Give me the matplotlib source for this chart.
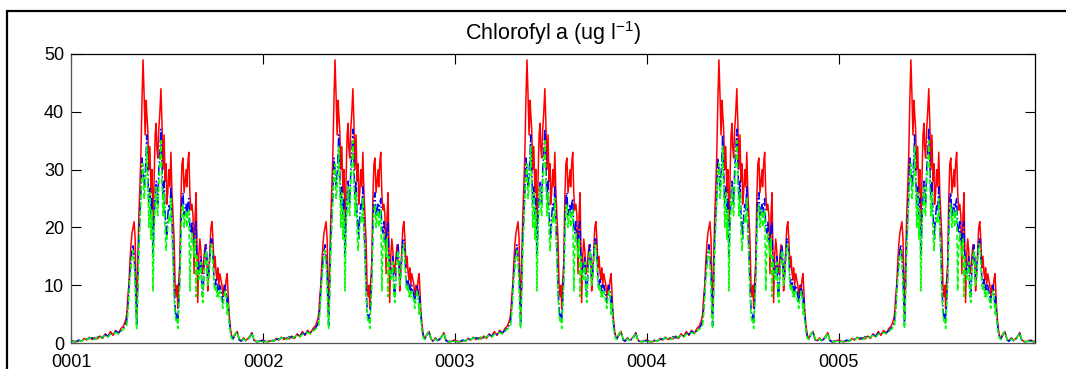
import matplotlib
matplotlib.use('Agg')
import matplotlib.pyplot as plt
import numpy as np
from matplotlib.lines import Line2D

plt.rcParams['font.family'] = ['Liberation Sans', 'DejaVu Sans']
plt.rcParams['mathtext.fontset'] = 'custom'
plt.rcParams['mathtext.rm'] = 'Liberation Sans'
plt.rcParams['mathtext.it'] = 'Liberation Sans'

# one model year (day of year), the same year repeats five times in the run
days = [0, 5, 10, 15, 20, 25, 30, 35, 40, 45, 50, 55, 60, 65, 70, 75, 80, 85, 90, 95, 100, 104,
        106, 108, 110, 112, 114, 116, 118, 120, 122, 124,
        125, 127, 129, 131, 133, 135, 137, 139, 141, 143,
        144, 146, 148, 150, 152, 154, 156, 158, 160, 162,
        163, 165, 167, 169, 171, 173, 175, 177, 179, 181,
        182, 184, 186, 188, 190, 192, 194, 196, 198, 200,
        202, 203, 205, 207, 209, 211, 213, 215, 217, 219,
        220, 222, 224, 226, 228, 230, 232, 234, 236, 238,
        239, 241, 243, 245, 247, 249, 251, 253, 255, 257,
        259, 260, 262, 264, 266, 268, 270, 272, 274, 276,
        278, 279, 281, 283, 285, 287, 289, 291, 293, 295,
        297, 298, 300, 302, 304, 306,
        308, 312, 316, 320, 324, 328, 332, 336, 340, 344, 348, 352, 356, 360, 364]

red = [0.5, 0.3, 0.2, 0.4, 0.3, 0.8, 0.5, 1.0, 0.6, 0.9, 0.7, 1.2, 0.8, 1.6, 1.1, 2.0, 1.3, 2.2, 1.6, 2.5, 3.0, 4.0,
       5, 8, 10, 14, 17, 19, 20, 21, 18, 8,
       5, 14, 22, 27, 33, 42, 49, 43, 36, 42,
       40, 37, 30, 34, 26, 30, 20, 28, 36, 38,
       34, 32, 37, 40, 44, 38, 30, 36, 28, 31,
       24, 26, 30, 27, 33, 26, 22, 18, 10, 8,
       10, 6, 11, 14, 25, 31, 32, 26, 28, 30,
       27, 31, 33, 26, 23, 24, 22, 12, 22, 26,
       20, 7, 15, 18, 16, 12, 13, 15, 17, 14,
       13, 9, 12, 16, 20, 21, 18, 13, 15, 12,
       11, 13, 10, 12, 11, 10, 8, 10, 9, 11,
       12, 10, 6, 3.5, 2, 1,
       0.8, 1.6, 2.0, 0.6, 0.4, 0.9, 0.5, 0.7, 1.2, 1.8, 0.5, 0.3, 0.2, 0.4, 0.5]

blue = [0.4, 0.2, 0.3, 0.5, 0.4, 0.6, 0.7, 0.8, 0.9, 0.7, 1.1, 0.9, 1.0, 1.4, 1.2, 1.7, 1.5, 2.0, 1.8, 2.1, 2.6, 3.2,
        4, 6, 9, 12, 14, 16, 17, 15, 12, 5,
        3, 10, 18, 22, 26, 32, 30, 27, 29, 33,
        36, 30, 24, 27, 22, 25, 15, 21, 25, 28,
        26, 24, 30, 33, 37, 31, 25, 28, 22, 20,
        18, 22, 24, 23, 27, 21, 16, 10, 6, 4,
        5, 3.5, 7, 12, 20, 25, 26, 22, 23, 24,
        22, 24, 25, 20, 19, 21, 18, 17, 20, 21,
        16, 14, 12, 13, 15, 9, 8, 13, 16, 17,
        14, 11, 12, 15, 18, 18, 15, 11, 10, 11,
        9, 10, 9, 10, 9, 8, 7, 9, 10, 9,
        6, 8, 5, 3, 1.5, 0.8,
        0.7, 1.4, 1.8, 0.5, 0.3, 0.8, 0.4, 0.6, 1.0, 1.6, 0.4, 0.2, 0.3, 0.3, 0.4]

green = [0.3, 0.2, 0.3, 0.4, 0.3, 0.7, 0.6, 0.9, 0.8, 0.6, 1.0, 0.8, 1.1, 1.3, 1.0, 1.5, 1.7, 1.8, 1.6, 2.0, 2.4, 2.8,
         3, 5, 8, 11, 13, 15, 16, 14, 10, 3,
         2.5, 8, 16, 20, 25, 29, 31, 25, 27, 30,
         34, 28, 20, 26, 18, 23, 9, 19, 24, 27,
         24, 22, 28, 31, 35, 28, 22, 26, 19, 16,
         18, 20, 22, 21, 25, 19, 14, 8, 5, 3.5,
         4, 2.5, 6, 10, 18, 23, 24, 20, 22, 23,
         20, 22, 23, 9, 17, 19, 17, 15, 18, 8,
         15, 13, 11, 12, 14, 8, 7, 12, 15, 16,
         13, 10, 11, 14, 17, 17, 14, 10, 9, 10,
         8, 9, 8, 9, 8, 7, 6, 8, 9, 8,
         5, 7, 4, 2.5, 1.2, 0.7,
         0.6, 1.5, 1.9, 0.6, 0.4, 0.7, 0.5, 0.5, 1.1, 1.7, 0.5, 0.3, 0.2, 0.3, 0.4]

year_labels = ['0001', '0002', '0003', '0004', '0005']
n_years = 6  # sixth repeat only fills the last few days to the right edge

t = np.concatenate([np.array(days) + 365 * k for k in range(n_years)])
r = np.tile(red, n_years)
b = np.tile(blue, n_years)
g = np.tile(green, n_years)

fig = plt.figure(figsize=(10.66, 3.69), dpi=100, facecolor='white')
# outer frame of the original figure, only its left and top edges are inside the crop
bx, by = 7 / 1066, 1 - 11 / 369
fig.add_artist(Line2D([bx, bx, 1.01], [-0.01, by, by], transform=fig.transFigure,
                      color='black', linewidth=1.6, solid_joinstyle='miter'))

ax = fig.add_axes([71 / 1066, 1 - 343 / 369, 964 / 1066, 289 / 369])

ax.plot(t, r, color='#ff0000', linestyle='-', linewidth=1.1)
ax.plot(t, b, color='#0000ff', linestyle='-.', linewidth=1.1)
ax.plot(t, g, color='#00ff00', linestyle='--', linewidth=1.1)

ax.set_xlim(0, 1833)
ax.set_ylim(0, 50)
ax.set_xticks([365 * k for k in range(len(year_labels))])
ax.set_xticklabels(year_labels)
ax.set_yticks([0, 10, 20, 30, 40, 50])
ax.tick_params(direction='in', length=7, width=0.8, labelsize=13, top=True, right=True,
               colors='black')
ax.tick_params(axis='y', pad=5)
ax.tick_params(axis='x', pad=8)
for side in ['left', 'bottom']:
    ax.spines[side].set_color('#555555')
for side in ['top', 'right']:
    ax.spines[side].set_color('black')
for s in ax.spines.values():
    s.set_linewidth(0.9)

ax.set_title('Chlorofyl a (ug l$^{-1}$)', fontsize=15.5, pad=10)

fig.savefig('out.png', dpi=100, facecolor='white')
